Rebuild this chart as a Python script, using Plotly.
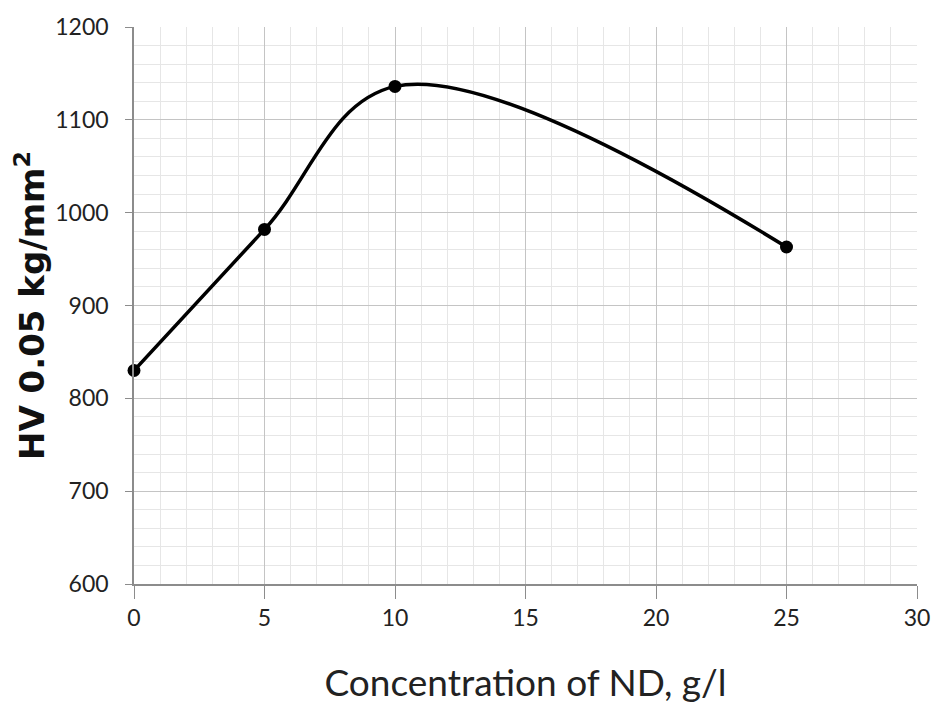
import plotly.graph_objects as go

concentration = [0, 5, 10, 25]
hardness = [830, 982, 1136, 963]

x_ticks = [0, 5, 10, 15, 20, 25, 30]
y_ticks = [600, 700, 800, 900, 1000, 1100, 1200]

fig = go.Figure()
fig.add_trace(go.Scatter(
    x=concentration, y=hardness, mode="lines+markers",
    line=dict(color="black", width=3.5, shape="spline", smoothing=1.05),
    marker=dict(color="black", size=13),
    cliponaxis=False, showlegend=False,
))

tick_font = dict(family="Lato", size=23, color="#222")

fig.update_xaxes(
    range=[0, 30], tickvals=x_ticks, ticktext=[str(v) for v in x_ticks],
    showgrid=True, gridcolor="#c4c4c4", gridwidth=1,
    minor=dict(dtick=1, showgrid=True, gridcolor="#e6e6e6", gridwidth=1),
    showline=True, linecolor="#8c8c8c", linewidth=1.5,
    ticks="outside", ticklen=13, tickcolor="#8c8c8c",
    tickfont=tick_font, zeroline=False,
    title=dict(text="Concentration of ND, g/l",
               font=dict(family="Lato", size=37, color="#222"),
               standoff=40),
)
fig.update_yaxes(
    range=[600, 1200], tickvals=y_ticks, ticktext=[str(v) for v in y_ticks],
    showgrid=True, gridcolor="#c4c4c4", gridwidth=1,
    minor=dict(dtick=20, showgrid=True, gridcolor="#e6e6e6", gridwidth=1),
    showline=True, linecolor="#8c8c8c", linewidth=1.5,
    ticks="outside", ticklen=7, tickcolor="#8c8c8c",
    tickfont=tick_font, zeroline=False, ticklabelstandoff=12,
    title=dict(text="<b>HV 0.05 kg/mm<sup>2</sup></b>",
               font=dict(family="DejaVu Sans", size=34, color="#111"),
               standoff=0),
)

fig.update_layout(
    width=942, height=709,
    margin=dict(l=134, r=16, t=20, b=125),
    plot_bgcolor="white", paper_bgcolor="white",
)

fig.write_html("out.html")
